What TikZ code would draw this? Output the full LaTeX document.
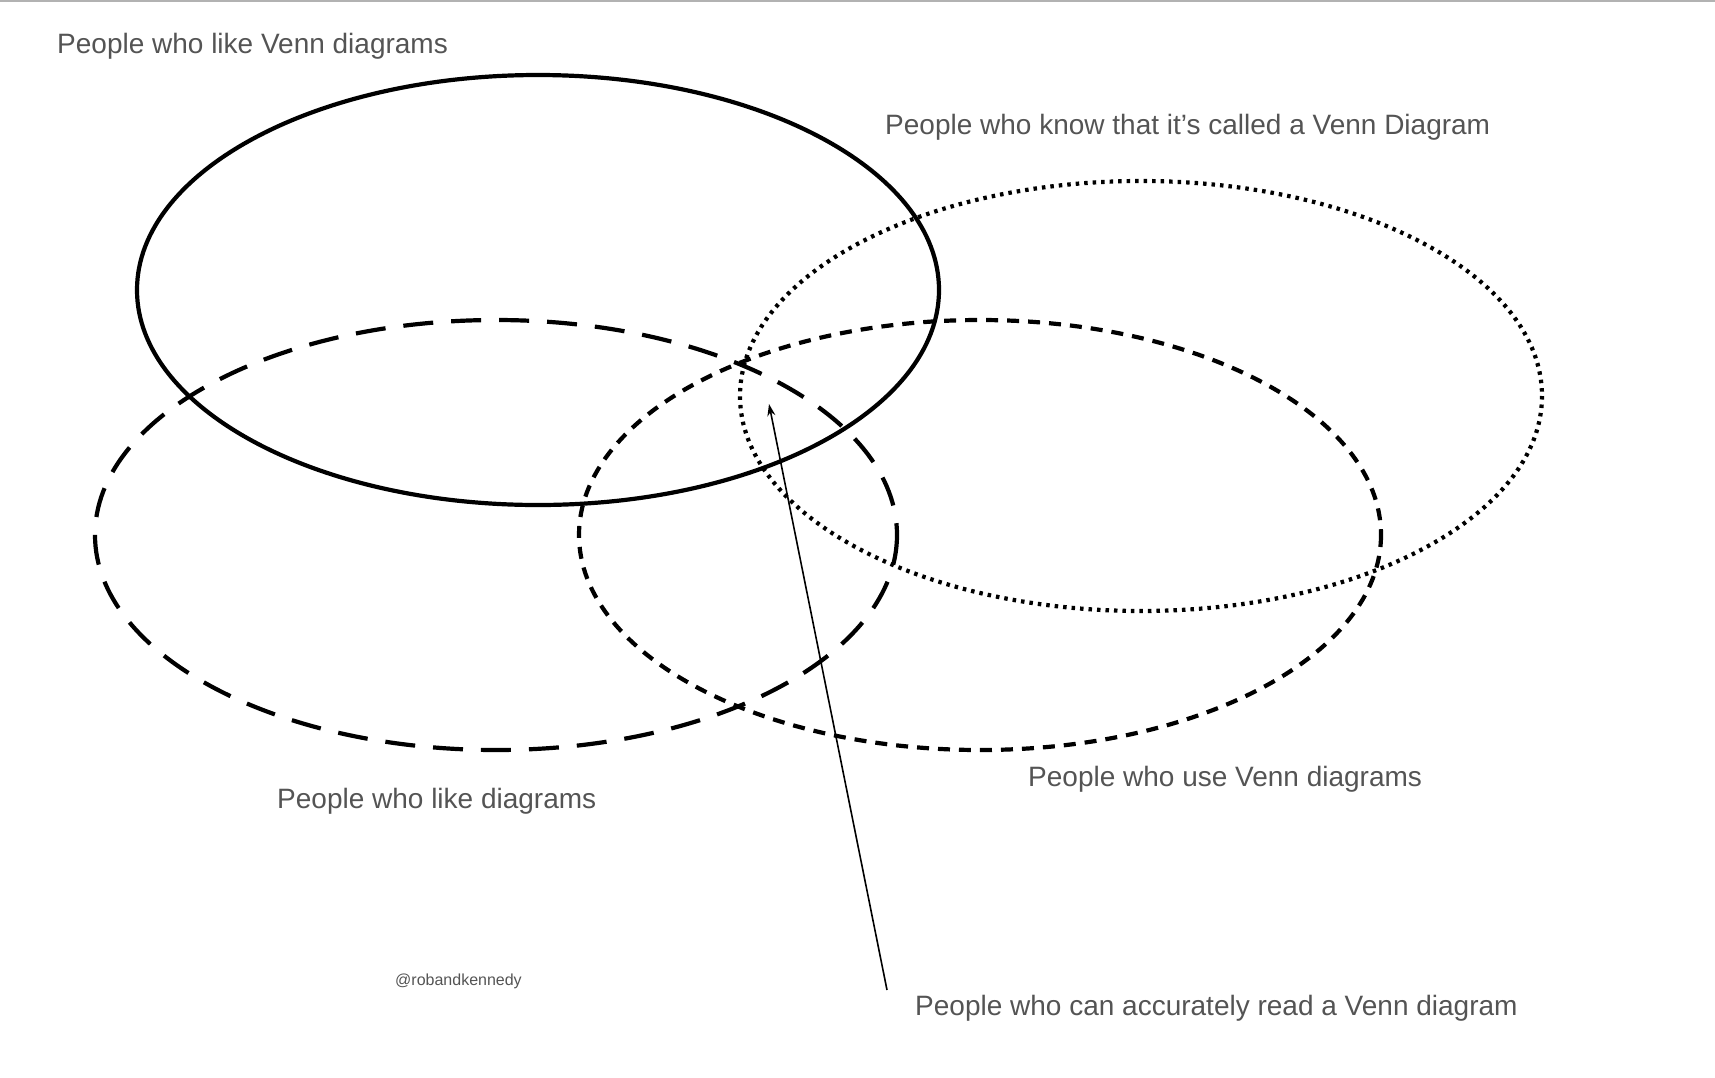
\documentclass[tikz,border=0pt]{standalone}
\usepackage{fontspec}
\setmainfont{Liberation Sans}
\usetikzlibrary{arrows.meta}
\begin{document}
\begin{tikzpicture}[x=1pt,y=-1pt,
  lbl/.style={anchor=west,text=black!67,font=\fontsize{28}{32}\selectfont,inner sep=0},
  ell/.style={line width=4.2pt}]
\useasboundingbox (0,0) rectangle (1715,1077);
\draw[black!30,line width=1.5pt] (0,0.75) -- (1715,0.75);
\draw[ell] (538,290) ellipse [x radius=401,y radius=215];
\draw[ell,dash pattern=on 30pt off 18pt] (496,535) ellipse [x radius=401,y radius=215];
\draw[ell,dash pattern=on 3.5pt off 5pt] (1141,396) ellipse [x radius=401,y radius=215];
\draw[ell,dash pattern=on 12pt off 9pt] (980,535) ellipse [x radius=401,y radius=215];
\node[lbl] (a) at (57,46) {People who like Venn diagrams};
\node[lbl] (b) at (885,127) {People who know that it’s called a Venn Diagram};
\node[lbl] (c) at (277,801) {People who like diagrams};
\node[lbl] (d) at (1028,779) {People who use Venn diagrams};
\node[lbl] (e) at (915,1008) {People who can accurately read a Venn diagram};
\node[lbl,font=\fontsize{16}{18}\selectfont] (f) at (395,981) {@robandkennedy};
\coordinate (s) at (887,990);
\coordinate (t) at (769,404);
\draw[line width=1.6pt,-{Stealth[length=12pt,width=8pt]}] (s) -- (t);
\end{tikzpicture}
\end{document}
